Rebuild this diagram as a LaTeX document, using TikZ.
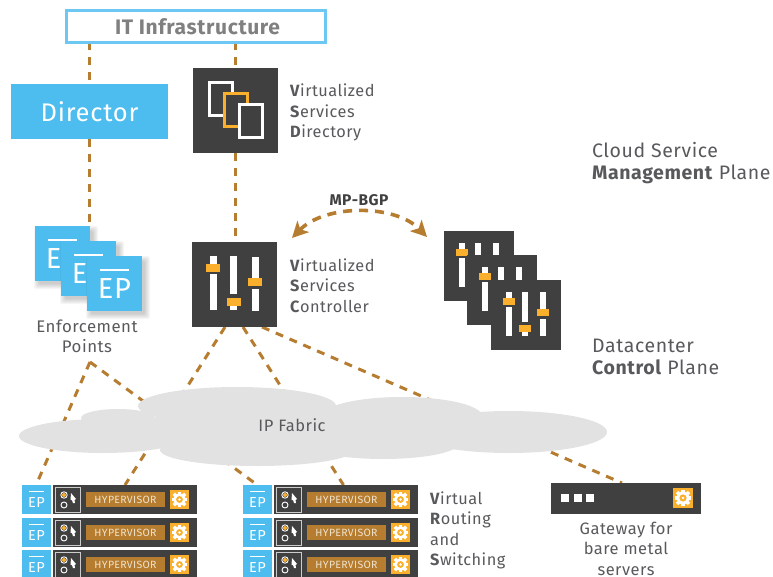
\documentclass[tikz,border=0pt]{standalone}
\usepackage{fontspec}
\setmainfont[LetterSpace=3]{Fira Sans}
\usetikzlibrary{arrows.meta,calc}
\definecolor{dark}{HTML}{404041}
\definecolor{sky}{HTML}{4DBDEF}
\definecolor{skyline}{HTML}{6CC8F2}
\definecolor{brown}{HTML}{B67C2F}
\definecolor{amber}{HTML}{FBB02D}
\definecolor{txt}{HTML}{58595B}
\definecolor{cloudc}{HTML}{E2E2E2}
\definecolor{cream}{HTML}{EFE3CC}
\pgfdeclarelayer{links}
\pgfdeclarelayer{cloudlayer}
\pgfsetlayers{links,cloudlayer,main}
\tikzset{
  box/.style={inner sep=0pt,outer sep=0pt,anchor=north west},
  link/.style={draw=brown,line width=3pt,dash pattern=on 8pt off 7pt},
  label/.style={inner sep=0pt,text=txt,font=\fontsize{16.3}{20.5}\selectfont,align=left,anchor=west},
  center label/.style={inner sep=0pt,text=txt,font=\fontsize{16.5}{20.5}\selectfont,align=center},
  plane/.style={inner sep=0pt,text=txt,font=\fontsize{19.5}{22}\selectfont,align=left,anchor=west},
  cloudpart/.style={fill=cloudc,draw=none},
}
\newcommand\blockat[6]{\node[box,fill=#6,minimum width=#4pt,minimum height=#5pt] (#1) at (#2,#3) {};}
\newcommand\sliderset[2]{%
 \begin{scope}[shift={(#1,#2)}]
  \fill[white] (15,12) rectangle (21,56);
  \fill[white] (31,12) rectangle (37,56);
  \fill[white] (49,12) rectangle (55,56);
  \fill[dark] (15,24) rectangle (21,27);
  \fill[dark] (31,42) rectangle (37,45);
  \fill[dark] (49,36) rectangle (55,39);
  \fill[amber] (12,18) rectangle (24,25);
  \fill[amber] (28,45) rectangle (40,52);
  \fill[amber] (46,29) rectangle (58,36);
 \end{scope}}
\newcommand\gearat[3]{%
 \begin{scope}[shift={(#1,#2)}]
  \fill[amber] (-#3,-#3) rectangle (#3,#3);
  \begin{scope}[x=#3pt,y=#3pt]
   \foreach \a in {0,45,...,315}{\fill[white,rotate=\a] (-.17,.55) rectangle (.17,.84);}
   \fill[white] (0,0) circle (.64);
   \fill[amber] (0,0) circle (.36);
   \fill[white] (0,0) circle (.14);
  \end{scope}
 \end{scope}}
\newcommand\bigep[3]{%
  \begin{scope}
   \foreach \i in {1,...,6}{\fill[black,opacity=.035,rounded corners=2pt] (#2+5-\i,#3+6-\i) rectangle (#2+55+2+\i,#3+55+2+\i);}
  \end{scope}
  \blockat{#1}{#2}{#3}{55}{55}{sky}
  \fill[white] (#2+13,#3+13) rectangle (#2+42,#3+15);
  \node[inner sep=0pt,text=white,font=\fontsize{29}{30}\selectfont,anchor=center] at (#2+27.5,#3+33) {EP};}
\newcommand\hvrow[3]{%
  \blockat{#1e}{#2}{#3}{29}{29}{sky}
  \fill[white] (#2+7,#3+6) rectangle (#2+22,#3+7);
  \node[inner sep=0pt,text=white,font=\fontsize{14.5}{15}\selectfont] at (#2+14.5,#3+17.5) {EP};
  \blockat{#1}{#2+31}{#3}{144}{29}{dark}
  \draw[white!80!black,line width=1pt] (#2+33.5,#3+2.5) rectangle (#2+58.5,#3+27);
  \fill[amber] (#2+42,#3+10) circle (2pt);
  \draw[white,line width=.9pt] (#2+42,#3+10) circle (3.2pt);
  \draw[white,line width=.9pt] (#2+42,#3+20) circle (3pt);
  \fill[white] (#2+49,#3+8) -- (#2+54,#3+14) -- (#2+52.5,#3+15) -- (#2+53,#3+18) -- (#2+51,#3+18) -- (#2+50,#3+15) -- (#2+48.5,#3+15) -- cycle;
  \fill[brown] (#2+64,#3+7) rectangle (#2+143,#3+22);
  \node[inner sep=0pt,text=cream,font=\fontsize{10.5}{11}\selectfont] at (#2+103.5,#3+15) {HYPERVISOR};
  \gearat{#2+157.5}{#3+14.5}{9.5}}
\begin{document}
\begin{tikzpicture}[x=1pt,y=-1pt]
\useasboundingbox (0,0) rectangle (773,577);
\clip (0,0) rectangle (773,577);
% ---- top
\node[box,draw=skyline,fill=white,line width=2.5pt,minimum width=259pt,minimum height=32pt,text=black!50!white,font=\bfseries\fontsize{21}{22}\selectfont,anchor=center] (it) at (196,26.5) {\hspace*{3pt}IT Infrastructure};
\node[box,fill=sky,minimum width=157pt,minimum height=55pt,text=white,font=\fontsize{25.5}{28}\selectfont,anchor=center] (dir) at (89.5,111.5) {Director};
% ---- VSD
\blockat{vsd}{193}{68}{85}{85}{dark}
\draw[white,line width=3pt] (209.5,82.5) rectangle (232.5,115.5);
\draw[amber,line width=3pt,fill=dark] (224.5,93.5) rectangle (247.5,126.5);
\draw[white,line width=3pt,fill=dark] (239.5,104.5) rectangle (262.5,137.5);
\node[label] at (290,112.5) {\textbf{V}irtualized\\\textbf{S}ervices\\\textbf{D}irectory};
% ---- VSC
\blockat{vsc}{192}{242}{85}{85}{dark}
\fill[white] (210,256) rectangle (217,310);
\fill[white] (230,256) rectangle (237,310);
\fill[white] (252,257) rectangle (259,311);
\fill[dark] (210,272) rectangle (217,274);
\fill[dark] (230,294) rectangle (237,298);
\fill[dark] (252,286) rectangle (259,289);
\fill[amber] (206,264) rectangle (220,272);
\fill[amber] (227,298) rectangle (241,306);
\fill[amber] (248,278) rectangle (262,286);
\node[label] at (290,285.5) {\textbf{V}irtualized\\\textbf{S}ervices\\\textbf{C}ontroller};
% ---- stack
\blockat{sa}{444}{231}{70}{70}{dark}
\sliderset{444}{231}
\blockat{sb}{467}{255}{70}{70}{dark}
\sliderset{467}{255}
\blockat{sc}{491}{280}{70}{70}{dark}
\sliderset{491}{280}
% ---- EP stack
\bigep{epa}{35}{226}
\bigep{epb}{61}{241}
\bigep{epc}{87}{256}
\node[center label,font=\fontsize{16.8}{20.5}\selectfont] (eplabel) at (87,336.5) {Enforcement\\Points};
% ---- labels
\node[inner sep=0pt,text=dark,font=\bfseries\fontsize{15.5}{16}\selectfont] (bgp) at (359,200) {MP-BGP};
\node[plane] at (592,163) {Cloud Service\\\textbf{Management} Plane};
\node[plane] at (592,356.5) {Datacenter\\\textbf{Control} Plane};
% ---- bottom rows
\hvrow{ha}{22}{485}
\hvrow{hb}{22}{518}
\hvrow{hc}{22}{550}
\hvrow{hd}{243}{485}
\hvrow{he}{243}{518}
\hvrow{hf}{243}{550}
\node[label] at (430,530.5) {\textbf{V}irtual\\\textbf{R}outing\\and\\\textbf{S}witching};
\blockat{gw}{551}{483}{150}{31}{dark}
\fill[white] (561,494) rectangle (569,502);
\fill[white] (574,494) rectangle (582,502);
\fill[white] (586,494) rectangle (594,502);
\gearat{683}{498}{10}
\node[center label] (gwlabel) at (626,548.5) {Gateway for\\bare metal\\servers};
% ---- cloud
\begin{pgfonlayer}{cloudlayer}
\fill[cloudpart] (103,436) ellipse [x radius=84,y radius=17];
\fill[cloudpart] (118,418) ellipse [x radius=37,y radius=9];
\fill[cloudpart] (237,406) ellipse [x radius=99,y radius=19];
\fill[cloudpart] (257,450) ellipse [x radius=97,y radius=16];
\fill[cloudpart] (402,416) ellipse [x radius=80,y radius=19];
\fill[cloudpart] (383,444) ellipse [x radius=75,y radius=15];
\fill[cloudpart] (509,432) ellipse [x radius=98,y radius=21];
\fill[cloudpart] (300,430) ellipse [x radius=170,y radius=24];
\end{pgfonlayer}
\node[inner sep=0pt,text=txt,font=\fontsize{16.5}{17}\selectfont] (ipf) at (292,425.5) {IP Fabric};
% ---- connectors
\coordinate (apex) at (90,362);
\coordinate (bgpL) at (292,238);
\coordinate (bgpR) at (427,237);
\begin{pgfonlayer}{links}
\draw[link] (it.south -| vsd.north) -- (vsd.north);
\draw[link] (vsd.south) -- (vsd.south |- vsc.north);
\draw[link] (it.south -| dir.north) -- (dir.north);
\draw[link] (dir.south) -- (dir.south |- epa.north);
\draw[link] (apex) -- ($(hae.north)+(0,-1)$);
\draw[link] (apex) -- ($(hde.north)+(-1.5,-1)$);
\draw[link] ($(vsc.south)+(-9.5,0)$) -- (ha.north);
\draw[link] ($(vsc.south)+(8.5,0)$) -- ($(hd.north)+(-2.5,0)$);
\draw[link] ($(vsc.south)+(27.5,0)$) -- ($(gw.north)+(-4,0)$);
\end{pgfonlayer}
\draw[draw=brown,line width=3.6pt,dash pattern=on 9pt off 7pt,{Stealth[length=16pt,width=16pt,inset=4pt]}-{Stealth[length=16pt,width=16pt,inset=4pt]}] (bgpL) .. controls (325,204) and (395,204) .. (bgpR);
\end{tikzpicture}
\end{document}
